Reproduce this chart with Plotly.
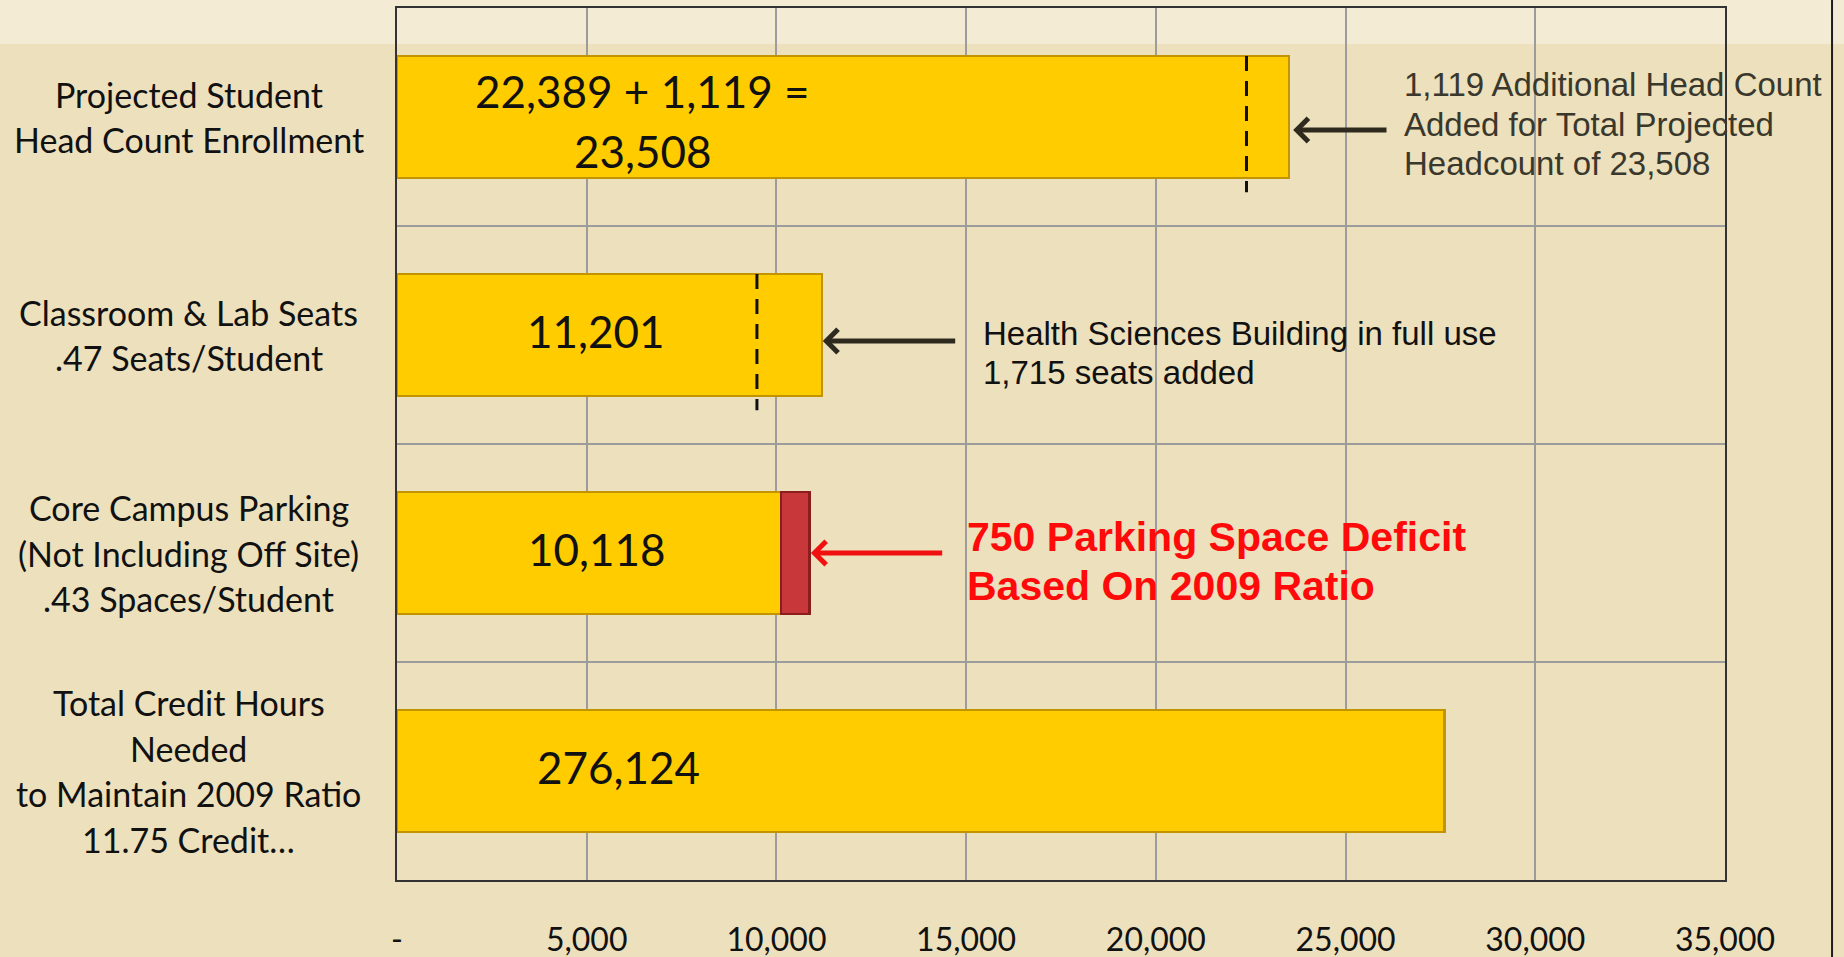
import plotly.graph_objects as go

# Category labels (top to bottom) and values
categories = ["Projected Student<br>Head Count Enrollment",
              "Classroom & Lab Seats<br>.47 Seats/Student",
              "Core Campus Parking<br>(Not Including Off Site)<br>.43 Spaces/Student",
              "Total Credit Hours<br>Needed<br>to Maintain 2009 Ratio<br>11.75 Credit…"]
bar_values = [23508, 11201, 10118, 27612.4]      # credit hours shown /10
deficit_values = [None, None, 750, None]
value_labels = ["22,389 + 1,119 =<br>23,508", "11,201", "10,118", "276,124"]
baseline_values = [22389, 9486]                  # before additions (dashed markers)

x_ticks = [0, 5000, 10000, 15000, 20000, 25000, 30000, 35000]
x_ticktext = ["-", "5,000", "10,000", "15,000", "20,000", "25,000", "30,000", "35,000"]

note_headcount = "1,119 Additional Head Count<br>Added for Total Projected<br>Headcount of 23,508"
note_seats = "Health Sciences Building in full use<br>1,715 seats added"
note_parking = "750 Parking Space Deficit<br>Based On 2009 Ratio"

YELLOW = "#ffcc00"
RED = "#c8373a"
BODY_FONT = "Lato"

fig = go.Figure()
fig.add_trace(go.Bar(y=categories, x=bar_values, orientation="h", width=0.56,
                     marker=dict(color=YELLOW, line=dict(color="#c29400", width=2.5)),
                     hoverinfo="x"))
fig.add_trace(go.Bar(y=categories, x=deficit_values, orientation="h", width=0.56,
                     marker=dict(color=RED, line=dict(color="#8a1e1e", width=2.5)),
                     hoverinfo="x"))


def add_lines(text, x, y, spacing, center_shift, font, xref="x", xanchor="left"):
    # one annotation per line so the line spacing can be set exactly
    lines = text.split("<br>")
    n = len(lines)
    for k, line in enumerate(lines):
        fig.add_annotation(x=x, xref=xref, y=y, yref="y", text=line, showarrow=False,
                           xanchor=xanchor, align="center",
                           yshift=-center_shift - (k - (n - 1) / 2) * spacing, font=font)


# Category labels, centred line by line
for cat in categories:
    add_lines(cat, -0.157, cat, 45.5, 0, dict(family=BODY_FONT, size=34, color="#111"),
              xref="paper", xanchor="center")

# Value labels inside the bars
label_x = [6480, 5240, 5270, 5830]
for cat, lab, lx in zip(categories, value_labels, label_x):
    add_lines(lab, lx, cat, 60, 4 if "<br>" in lab else -4,
              dict(family=BODY_FONT, size=44, color="#111"), xanchor="center")

# Dashed markers for the earlier values
for i, bv in enumerate(baseline_values):
    fig.add_shape(type="line", xref="x", yref="y", x0=bv, x1=bv, y0=i - 0.28, y1=i + 0.345,
                  line=dict(color="#111", width=3, dash="15px,10px"))

# Arrows
arrow_specs = [(0, bar_values[0] + 110, 2500, "#2e2a1e", -13),
               (1, bar_values[1] + 20, 3530, "#2e2a1e", -6),
               (2, bar_values[2] + deficit_values[2] + 40, 3500, "#f01010", 0)]
for i, head, length, col, ys in arrow_specs:
    fig.add_annotation(x=head, y=categories[i], ax=head + length, axref="x", ay=0, ayref="pixel",
                       text="", showarrow=True, arrowhead=4, arrowsize=0.9, arrowwidth=5,
                       arrowcolor=col, yshift=ys)

# Notes
add_lines(note_headcount, 26500, categories[0], 39.4, 7,
          dict(family="Liberation Sans", size=33, color="#3a382c"))
add_lines(note_seats, 15400, categories[1], 38.8, 17.6,
          dict(family="Liberation Sans", size=33, color="#111"))
add_lines(note_parking, 14970, categories[2], 49, 8,
          dict(family="Liberation Sans", size=41, color="#ff0a0a", weight="bold"))

# Background: lighter band along the top, dark rule at the right
fig.add_shape(type="rect", xref="paper", yref="paper", x0=-0.31, x1=1.1, y0=0.9587, y1=1.02,
              fillcolor="#f4ebd4", line_width=0, layer="below")
fig.add_shape(type="line", xref="paper", yref="paper", x0=1.0806, x1=1.0806, y0=-0.1, y1=1.02,
              line=dict(color="#1e1e1e", width=2))

fig.update_layout(
    width=1844, height=957,
    margin=dict(l=397, r=119, t=8, b=77),
    paper_bgcolor="#ece0bd", plot_bgcolor="rgba(0,0,0,0)",
    barmode="stack", bargap=0.44, showlegend=False,
    xaxis=dict(range=[0, 35000], tickvals=x_ticks, ticktext=x_ticktext,
               showgrid=True, gridcolor="#9c9c9c", gridwidth=1.5, zeroline=False,
               showline=True, mirror=True, linecolor="#333", linewidth=2,
               ticks="", ticklabelstandoff=31, automargin=False,
               tickfont=dict(family=BODY_FONT, size=32, color="#111")),
    yaxis=dict(type="category", categoryorder="array", categoryarray=categories,
               range=[3.5, -0.5], tickson="boundaries", showticklabels=False,
               showgrid=True, gridcolor="#9c9c9c", gridwidth=1.5, zeroline=False,
               showline=True, mirror=True, linecolor="#333", linewidth=2, ticks="",
               automargin=False),
)

fig.write_html("out.html", config={"displayModeBar": False},
               post_script="document.body.style.margin='0';")
